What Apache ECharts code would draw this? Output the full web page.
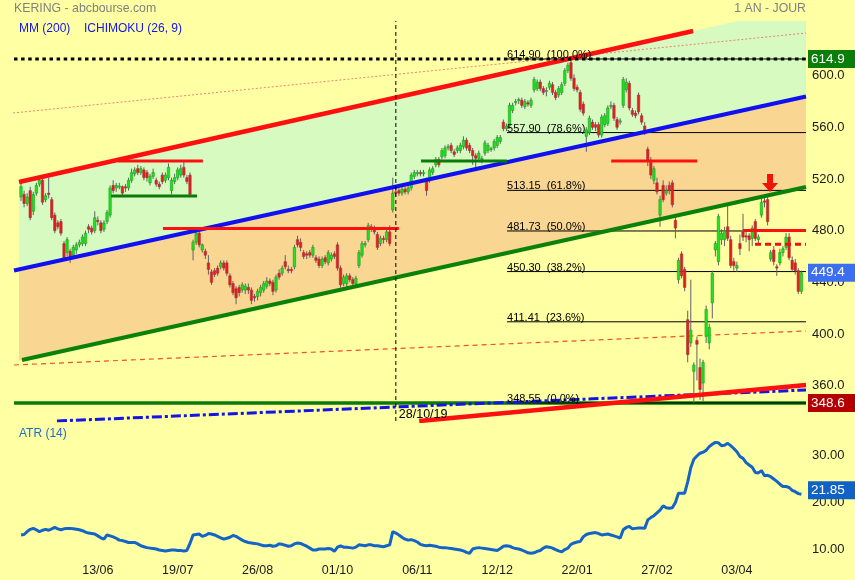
<!DOCTYPE html>
<html><head><meta charset="utf-8">
<script src="https://cdn.jsdelivr.net/npm/echarts@6/dist/echarts.min.js"></script>
<style>html,body{margin:0;padding:0;background:#FFFFA3}#c{width:855px;height:580px}</style>
</head><body><div id="c"></div>
<script>
// ---------- DATA ----------
const dates = [
'09/05/19','10/05/19','13/05/19','14/05/19','15/05/19','16/05/19','17/05/19','20/05/19','21/05/19','22/05/19','23/05/19','24/05/19','27/05/19','28/05/19','29/05/19','30/05/19','31/05/19',
'03/06/19','04/06/19','05/06/19','06/06/19','07/06/19','10/06/19','11/06/19','12/06/19','13/06/19','14/06/19','17/06/19','18/06/19','19/06/19','20/06/19','21/06/19','24/06/19','25/06/19','26/06/19','27/06/19','28/06/19',
'01/07/19','02/07/19','03/07/19','04/07/19','05/07/19','08/07/19','09/07/19','10/07/19','11/07/19','12/07/19','15/07/19','16/07/19','17/07/19','18/07/19','19/07/19','22/07/19','23/07/19','24/07/19','25/07/19','26/07/19','29/07/19','30/07/19','31/07/19',
'01/08/19','02/08/19','05/08/19','06/08/19','07/08/19','08/08/19','09/08/19','12/08/19','13/08/19','14/08/19','15/08/19','16/08/19','19/08/19','20/08/19','21/08/19','22/08/19','23/08/19','26/08/19','27/08/19','28/08/19','29/08/19','30/08/19',
'02/09/19','03/09/19','04/09/19','05/09/19','06/09/19','09/09/19','10/09/19','11/09/19','12/09/19','13/09/19','16/09/19','17/09/19','18/09/19','19/09/19','20/09/19','23/09/19','24/09/19','25/09/19','26/09/19','27/09/19','30/09/19',
'01/10/19','02/10/19','03/10/19','04/10/19','07/10/19','08/10/19','09/10/19','10/10/19','11/10/19','14/10/19','15/10/19','16/10/19','17/10/19','18/10/19','21/10/19','22/10/19','23/10/19','24/10/19','25/10/19','28/10/19','29/10/19','30/10/19','31/10/19',
'01/11/19','04/11/19','05/11/19','06/11/19','07/11/19','08/11/19','11/11/19','12/11/19','13/11/19','14/11/19','15/11/19','18/11/19','19/11/19','20/11/19','21/11/19','22/11/19','25/11/19','26/11/19','27/11/19','28/11/19','29/11/19',
'02/12/19','03/12/19','04/12/19','05/12/19','06/12/19','09/12/19','10/12/19','11/12/19','12/12/19','13/12/19','16/12/19','17/12/19','18/12/19','19/12/19','20/12/19','23/12/19','24/12/19','27/12/19','30/12/19','31/12/19',
'02/01/20','03/01/20','06/01/20','07/01/20','08/01/20','09/01/20','10/01/20','13/01/20','14/01/20','15/01/20','16/01/20','17/01/20','20/01/20','21/01/20','22/01/20','23/01/20','24/01/20','27/01/20','28/01/20','29/01/20','30/01/20','31/01/20',
'03/02/20','04/02/20','05/02/20','06/02/20','07/02/20','10/02/20','11/02/20','12/02/20','13/02/20','14/02/20','17/02/20','18/02/20','19/02/20','20/02/20','21/02/20','24/02/20','25/02/20','26/02/20','27/02/20','28/02/20',
'02/03/20','03/03/20','04/03/20','05/03/20','06/03/20','09/03/20','10/03/20','11/03/20','12/03/20','13/03/20','16/03/20','17/03/20','18/03/20','19/03/20','20/03/20','23/03/20','24/03/20','25/03/20','26/03/20','27/03/20','30/03/20','31/03/20',
'01/04/20','02/04/20','03/04/20','06/04/20','07/04/20','08/04/20','09/04/20','14/04/20','15/04/20','16/04/20','17/04/20','20/04/20','21/04/20','22/04/20','23/04/20','24/04/20','27/04/20','28/04/20','29/04/20','30/04/20',
'04/05/20','05/05/20','06/05/20','07/05/20'];

const opens = [
508,510,503,513,497,511,518,521,506,511, 506,494,488,489,472,465,466,463,467,471,
472,472,485,484,482,490,488,483,489,494, 517,515,516,516,516,515,521,526,530,527,
529,527,519,524,521,518,525,521,523,513, 520,523,525,531,523,525,467,473,480,467,
466,457,450,451,453,454,457,457,447,441, 437,438,436,436,438,436,431,431,434,436,
439,443,442,436,449,449,458,452,452,454, 475,473,465,464,465,463,461,460,455,461,
457,460,464,471,453,441,441,447,444,441, 455,463,471,475,485,484,479,472,476,475,
481,498,512,513,511,514,512,515,524,526, 527,526,521,521,527,533,537,539,540,546,
548,543,544,544,547,552,548,544,540,538, 537,542,544,545,546,548,551,566,561,563,
575,581,583,583,578,581,579,591,592,597, 592,590,593,595,589,587,589,596,606,612,
600,593,589,580,555,558,566,564,564,556, 564,565,578,579,568,566,579,591,596,575,
573,587,571,563,545,535,521,519,494,517, 511,517,519,490,444,464,452,413,395,373,
397,376,364,400,395,426,467,458,475,475, 485,475,458,453,472,481,478,478,476,489,
475,494,505,506,460,467,454,457,465,469, 477,459,457,451,435];
const closes = [
516,503,508,492,510,517,521,504,509,510, 492,482,485,480,461,475,462,469,471,473,
477,480,483,481,492,489,482,488,496,515, 513,517,516.5,511,515,521,527,529,527,530,
523,523,524,527,518,516,520,525,531,521, 523,529,530,525,520,510,473,480,471,471,
463,452,442,448,449,457,453,449,440,434, 430,434,440,439,436,428,430,435,438,441,
443,441,435,446,446,453,454,451,451,469, 471,469,462,463,463,469,459,455,460,458,
465,463,462,453,440,446,447,444,441,445, 465,472,472,486,483,481,469,476,475,481,
472,511,511,511,514,512,515,525,527,527, 526,527,513,529,530,537,533,544,546,547,
544,541,546,548,552,546,544,540,538,542, 538,550,548,545.5,551,554,554,561,563,579,
579,582,583.5,579,582,580,583,599,597,592, 589,590.5,596,589,585,592,595,606,610,600,
592,591,576,573,560,569,562,562,556,570, 571,577,579,569,562,567,599,597,577,572,
571,574,566,560,536,525,530,512,506,506, 513,513,502,484,459,447,438,386,405,378,
394,359,380,421,407,449,472,493,480,482, 476,455,455,455,468,477,477,475,484,476,
477,504,504,489,465,458,453,465,468,477, 461,452,451,435,449.4];
const lows = [
505,500,501,490,494,509,516,502,504,507, 490,480,483,478,459,462,457,460,464,469,
470,470,480,479,480,486,480,481,487,492, 511,512,514,509,512,513,519,524,525,525,
521,520,517,522,516,514,518,519,521,510, 518,521,523,523,518,508,459,471,469,465,
460,448,440,446,447,452,451,447,438,432, 425,431,434,433,433,425,427,428,431,434,
437,439,432,434,444,447,452,449,449,452, 469,466,460,460,461,461,457,453,453,456,
455,458,460,451,438,439,438,442,439,438, 453,461,469,473,481,479,467,470,472,473,
470,496,508,509,509,510,510,513,522,524, 524,524,509,519,525,531,531,537,538,544,
542,539,542,542,545,544,542,533,528,536, 534,540,542,543,544,546,549,559,559,561,
573,579,580,577,576,578,577,589,590,590, 587,586,591,587,583,585,587,594,604,598,
590,589,574,571,543,556,560,559,554,554, 562,563,576,567,560,564,577,589,575,570,
569,572,564,556,532,522,518,510,485,504, 509,510,500,476,441,445,435,380,392,348.55,
366,351,350,395,390,414,462,455,471,470, 474,453,451,450,463,474,473,466,470,474,
472,492,500,486,458,455,447,455,462,467, 459,450,448,433,433];
const highs = [
520,513,511,516,512,519,524,523,511,523, 508,496,490,491,474,477,468,471,473,475,
479,482,487,486,497,493,490,490,498,517, 521,519,519,517,518,523,530,531,533,532,
531,529,526,530,523,520,527,527,534,523, 526,531,533,535,525,527,475,482,482,472,
468,463,452,453,455,459,459,459,449,443, 439,440,442,441,441,438,433,437,440,443,
446,445,444,448,452,455,463,455,454,471, 478,476,467,466,467,471,463,462,462,463,
467,465,466,473,455,448,449,449,446,447, 467,474,474,488,487,486,481,478,478,483,
486,523,515,515,516,516,517,527,529,529, 529,529,523,531,532,539,539,546,548,549,
550,545,548,550,555,554,550,546,542,544, 540,552,550,547,553,556,556,568,565,581,
581,584,585,585,584,583,585,601,599,599, 594,593,598,597,591,594,597,608,612,614.9,
603,595,591,582,562,571,568,566,566,572, 573,579,582,581,570,569,601,600,598,577,
575,589,573,566,547,539,532,523,509,521, 517,520,521,493,461,466,454,420,444,380,
400,383,382,424,410,451,474,495,483,485, 502,478,461,458,479,495,481,480,486,491,
479,508,510,509,467,470,456,468,470,480, 480,462,460,453,451];
const atr = [
13.2,13.3,13.9,14.4,14.6,14.3,13.9,14.2,14.4,14.2, 14.5,14.8,14.5,14.3,14.5,14.6,14.6,14.5,14.4,14.3,
14.1,13.8,13.6,13.5,13.4,13.0,12.6,12.3,13.2,13.0, 12.8,12.5,12.1,12.0,11.8,11.6,11.6,11.6,11.3,10.9,
10.7,10.5,10.4,10.3,10.2,10.0,9.9,9.8,9.9,10.0, 10.0,9.9,9.9,9.8,9.9,11.4,13.2,13.3,13.4,12.9,
13.1,13.5,13.4,13.2,12.9,12.6,12.3,12.5,12.7,13.1, 12.9,12.5,12.1,11.8,11.6,11.5,11.4,11.3,11.1,10.9,
10.9,11.0,10.8,10.9,11.3,11.2,11.0,10.8,10.9,11.3, 11.5,11.4,11.1,10.8,10.4,10.0,10.0,10.2,10.2,10.2,
10.3,10.2,9.7,10.6,10.9,10.6,10.6,10.5,10.4,10.6, 11.1,11.0,10.9,11.1,11.1,10.9,10.9,10.8,10.7,10.9,
11.1,13.9,13.6,13.2,12.7,12.3,12.1,12.2,12.0,11.7, 11.2,11.0,10.9,11.0,10.9,10.8,10.6,10.5,10.5,10.4,
10.3,10.2,10.1,10.0,9.8,9.5,9.3,10.2,10.4,10.5, 10.4,10.3,10.2,10.1,10.0,9.9,10.3,10.8,10.9,10.8,
10.5,10.3,10.2,10.0,9.7,9.4,9.3,9.4,9.7,9.9, 10.4,10.7,10.6,10.4,10.1,9.8,9.6,10.1,10.4,11.2,
11.5,11.7,11.8,12.8,13.3,13.5,13.6,13.7,13.5,13.2, 13.3,13.4,13.2,13.0,12.8,12.5,14.3,14.8,15.0,14.5,
14.6,14.7,14.7,14.6,16.4,16.9,17.3,17.9,18.5,19.4, 19.0,18.9,19.0,20.1,22.1,22.1,22.1,24.5,27.5,29.3,
30.0,30.6,30.8,31.2,32.0,32.5,32.9,32.8,32.2,32.3, 32.7,32.2,31.6,30.9,29.9,29.5,28.6,28.1,27.6,26.5,
26.4,26.9,25.8,25.9,25.6,25.1,24.6,24.0,23.5,23.5, 23.3,22.7,22.4,22.0,21.85];

const priceTicks = [360, 400, 440, 480, 520, 560, 600];
const atrTicks = [10, 20, 30];
const labelDates = ['13/06/19','19/07/19','26/08/19','01/10/19','06/11/19','12/12/19','22/01/20','27/02/20','03/04/20'];
const markerDate = '28/10/19';
const fibLevels = [614.90, 557.90, 513.15, 481.73, 450.30, 411.41, 348.55];
const fibPercents = ['100.0%', '78.6%', '61.8%', '50.0%', '38.2%', '23.6%', '0.0%'];
const fibStart = 158.2;
const highPrice = 614.9, lowPrice = 348.55, lastPrice = 449.4, lastAtr = 21.85;
// trend lines [[index, price],[index, price]]
const upperChannel = [[-0.65, 519.65], [218.75, 636.56]];
const midChannel = [[-2.28, 451.1], [255.5, 585.85]];
const lowerChannel = [[0.33, 381.8], [255.5, 515.78]];
const upperDotted = [[-2.6, 573.07], [255.5, 635.0]];
const lowerDashed = [[-2.28, 377.97], [255.5, 404.3]];
const blueDashDot = [[11.7, 334.6], [255.5, 358.6]];
const redRising = [[129.6, 334.6], [255.5, 362.5]];
const redLevels = [[31.6, 59.2, 535.9], [46.2, 123, 483.6], [192.1, 220.1, 535.9], [235, 255.5, 482.1]];
const greenLevels = [[29.3, 57.3, 508.8], [130.2, 158.2, 535.9]];
const redDashedLevel = [238.9, 255.5, 471.4];
const arrowPoint = [243.8, 512];

// ---------- LAYOUT ----------
const X_MIN = -2.28, X_MAX = 255.5;
const Y_MIN = 334.6, Y_MAX = 644.3;
const A_MIN = 7.87, A_MAX = 36.6;
const FILL_START = -0.65;
const FONT = '"Liberation Sans", Arial, sans-serif';

function lineAt(s, x) { const [[x0, y0], [x1, y1]] = s; return y0 + (y1 - y0) * (x - x0) / (x1 - x0); }
function seg(pts, color, width, type, z) {
  return { type: 'line', xAxisIndex: 0, yAxisIndex: 0, data: pts, showSymbol: false, symbol: 'none',
    silent: true, clip: true, z: z, lineStyle: { color: color, width: width, type: type || 'solid', cap: 'butt' } };
}
function fill(topL, botL, color) {
  return { type: 'custom', xAxisIndex: 0, yAxisIndex: 0, silent: true, clip: true, z: 1, data: [[0, 0]],
    renderItem: function (params, api) {
      const pts = [[FILL_START, lineAt(topL, FILL_START)], [X_MAX, lineAt(topL, X_MAX)],
                   [X_MAX, lineAt(botL, X_MAX)], [FILL_START, lineAt(botL, FILL_START)]].map(p => api.coord(p));
      return { type: 'polygon', shape: { points: pts }, style: { fill: color } };
    } };
}

const candleData = opens.map((o, i) => [i, o, closes[i], lows[i], highs[i]]);
const series = [];
series.push(fill(upperChannel, midChannel, '#D7FAC0'));
series.push(fill(midChannel, lowerChannel, '#F9D792'));
series.push(seg(upperDotted, '#F08070', 1, [2, 2], 2));
series.push(seg(lowerDashed, '#F0502C', 1.2, [5, 4], 2));
series.push(seg([[X_MIN, lowPrice], [X_MAX, lowPrice]], '#0A7A0A', 3.5, 'solid', 3));
fibLevels.forEach(v => series.push(seg([[fibStart, v], [X_MAX, v]], '#000000', 1, 'solid', 3.5)));
series.push({
  type: 'custom', xAxisIndex: 0, yAxisIndex: 0, z: 4, clip: true, silent: true,
  data: candleData, encode: { x: 0, y: [1, 2, 3, 4] },
  renderItem: function (params, api) {
    const i = api.value(0), o = api.value(1), c = api.value(2), l = api.value(3), h = api.value(4);
    const pO = api.coord([i, o]), pC = api.coord([i, c]), pL = api.coord([i, l]), pH = api.coord([i, h]);
    const w = api.size([1, 0])[0] * 0.78;
    const up = c >= o;
    const top = Math.min(pO[1], pC[1]);
    const hgt = Math.max(1, Math.abs(pO[1] - pC[1]));
    return { type: 'group', children: [
      { type: 'line', shape: { x1: pH[0], y1: pH[1], x2: pL[0], y2: pL[1] }, style: { stroke: '#5E6070', lineWidth: 1 } },
      { type: 'rect', shape: { x: pO[0] - w / 2, y: top, width: w, height: hgt },
        style: { fill: up ? '#22E022' : '#E21E1E', stroke: up ? '#1AA01A' : '#A83232', lineWidth: 0.6 } }
    ] };
  }
});
series.push(seg(upperChannel, '#FF1010', 4.5, 'solid', 5));
series.push(seg(midChannel, '#1010F0', 4, 'solid', 5));
series.push(seg(lowerChannel, '#0A820A', 4, 'solid', 5));
series.push(seg(blueDashDot, '#1414E6', 3, [10, 3, 3, 3], 5));
series.push(seg(redRising, '#FF1010', 4.5, 'solid', 5));
redLevels.forEach(r => series.push(seg([[r[0], r[2]], [r[1], r[2]]], '#FF1010', 3, 'solid', 6)));
greenLevels.forEach(r => series.push(seg([[r[0], r[2]], [r[1], r[2]]], '#0A7A0A', 3, 'solid', 6)));
series.push(seg([[redDashedLevel[0], redDashedLevel[2]], [redDashedLevel[1], redDashedLevel[2]]], '#F01010', 3, [6, 4], 6));
series.push(seg([[X_MIN, highPrice], [X_MAX, highPrice]], '#000000', 3, [3.5, 3.6], 7));
const markerIdx = dates.indexOf(markerDate);
series.push(seg([[markerIdx, Y_MIN], [markerIdx, Y_MAX]], '#000000', 1, [4, 3], 7));
series.push({ type: 'line', xAxisIndex: 1, yAxisIndex: 1, data: atr.map((v, i) => [i, v]), showSymbol: false, symbol: 'none',
  silent: true, lineStyle: { color: '#1464C8', width: 3 }, z: 5 });

const labelIdx = labelDates.map(d => dates.indexOf(d));

const option = {
  animation: false,
  backgroundColor: '#FFFFA3',
  textStyle: { fontFamily: FONT },
  grid: [
    { left: 14, top: 21, width: 792, height: 400 },
    { left: 14, top: 425, width: 792, height: 135 }
  ],
  xAxis: [
    { type: 'value', gridIndex: 0, min: X_MIN, max: X_MAX, show: false },
    { type: 'value', gridIndex: 1, min: X_MIN, max: X_MAX,
      axisLine: { show: false }, axisTick: { show: false }, splitLine: { show: false },
      axisLabel: { customValues: labelIdx, formatter: v => dates[Math.round(v)].slice(0, 5),
        color: '#1A1A1A', fontSize: 12.5, margin: 4, fontFamily: FONT } }
  ],
  yAxis: [
    { type: 'value', gridIndex: 0, min: Y_MIN, max: Y_MAX, position: 'right',
      axisLine: { show: false }, axisTick: { show: false }, splitLine: { show: false },
      axisLabel: { customValues: priceTicks, formatter: v => '{t|' + v.toFixed(1) + '}', margin: 6,
        rich: { t: { color: '#1A1A1A', fontSize: 13, fontFamily: FONT, padding: [0, 0, 5, 0] } } } },
    { type: 'value', gridIndex: 1, min: A_MIN, max: A_MAX, position: 'right',
      axisLine: { show: false }, axisTick: { show: false }, splitLine: { show: false },
      axisLabel: { customValues: atrTicks, formatter: v => '{t|' + v.toFixed(2) + '}', margin: 6,
        rich: { t: { color: '#1A1A1A', fontSize: 13, fontFamily: FONT, padding: [0, 0, 1, 0] } } } }
  ],
  series: series
};

const chart = echarts.init(document.getElementById('c'));
chart.setOption(option);

// ---------- annotations positioned from data ----------
const p0 = p => chart.convertToPixel({ gridIndex: 0 }, p);
const p1 = p => chart.convertToPixel({ gridIndex: 1 }, p);
const xRight = p0([X_MAX, Y_MIN])[0];
const yBottom = p0([X_MAX, Y_MIN])[1];
const g = [];
function txt(x, y, text, color, size, align, va) {
  return { type: 'text', x: x, y: y, z: 100, silent: true,
    style: { text: text, fill: color, font: size + 'px ' + FONT, align: align || 'left', verticalAlign: va || 'middle' } };
}
function box(y, text, color) {
  g.push({ type: 'rect', x: xRight + 2, y: y - 9, z: 99, silent: true, shape: { width: 47, height: 18 }, style: { fill: color } });
  g.push(txt(xRight + 5, y, text, '#FFFFFF', 13.5));
}
box(p0([0, highPrice])[1], highPrice.toFixed(1), '#0A7D0A');
box(p0([0, lastPrice])[1], lastPrice.toFixed(1), '#3B6EF0');
box(p0([0, lowPrice])[1], '348.6', '#B40000');
box(p1([0, lastAtr])[1] - 4, lastAtr.toFixed(2), '#1262C6');

fibLevels.forEach((v, k) => {
  const pt = p0([fibStart, v]);
  g.push(txt(pt[0], pt[1] + 1.5, v.toFixed(2) + '  (' + fibPercents[k] + ')', '#000000', 11, 'left', 'bottom'));
});
const mk = p0([markerIdx, Y_MIN]);
g.push(txt(mk[0] + 3, yBottom - 6, markerDate, '#000000', 12.5));

const tip = p0(arrowPoint);
g.push({ type: 'polygon', z: 100, silent: true, shape: { points: [
  [tip[0] - 3, tip[1] - 18], [tip[0] + 3, tip[1] - 18], [tip[0] + 3, tip[1] - 9], [tip[0] + 8, tip[1] - 9],
  [tip[0], tip[1]], [tip[0] - 8, tip[1] - 9], [tip[0] - 3, tip[1] - 9]] }, style: { fill: '#EE1408' } });

g.push(txt(14, 9, 'KERING - abcbourse.com', '#808080', 12.3));
g.push(txt(806, 9, '1 AN - JOUR', '#808080', 12.3, 'right'));
g.push(txt(19, 29, 'MM (200)', '#1414F0', 12));
g.push(txt(84, 29, 'ICHIMOKU (26, 9)', '#1414F0', 12));
g.push(txt(19, 434, 'ATR (14)', '#1E6EC8', 12));

chart.setOption({ graphic: { elements: g } });
</script>
</body></html>
